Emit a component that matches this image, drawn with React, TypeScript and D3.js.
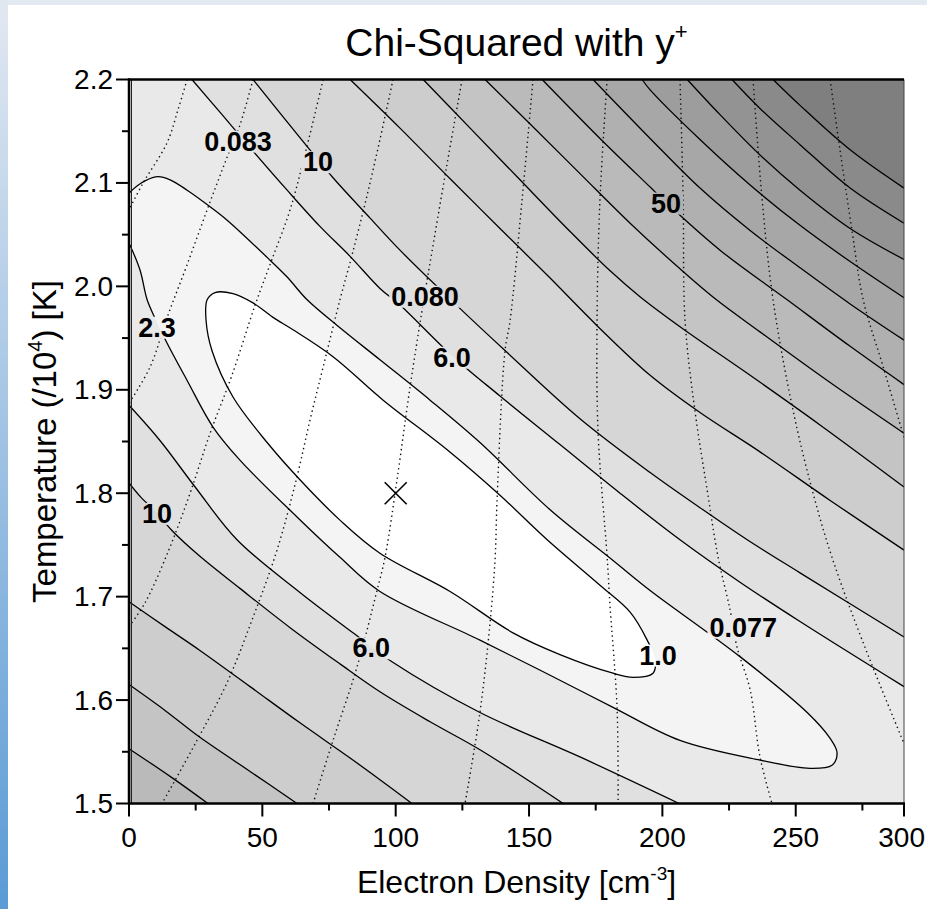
import React from 'react';
import * as d3 from 'd3';

type Pt = [number, number];

// ---- data (electron density, temperature /1e4) ----
const X_MAX = 290.6;
const levels = [1.0, 2.3, 6, 10, 20, 30, 40, 50, 60, 70, 80, 90, 100];
const bandGrays = ['#ffffff', '#f4f4f4', '#e9e9e9', '#e0e0e0', '#d6d6d6', '#cdcdcd', '#c4c4c4', '#bababa', '#b0b0b0', '#a7a7a7', '#9d9d9d', '#939393', '#8a8a8a', '#7f7f7f'];

const contour1: Pt[] = [[29.3,1.987],[32.3,1.994],[39.0,1.993],[46.5,1.984],[54.0,1.970],[61.5,1.958],[76.5,1.932],[95.3,1.890],[119.3,1.842],[139.1,1.798],[156.8,1.755],[176.6,1.711],[187.9,1.685],[194.3,1.658],[197.3,1.639],[196.5,1.626],[189.0,1.622],[181.5,1.626],[161.6,1.644],[144.0,1.665],[120.4,1.705],[94.1,1.742],[79.1,1.774],[64.1,1.813],[51.8,1.849],[39.0,1.893],[31.1,1.938],[28.9,1.967]];
const contour23: Pt[] = [[0,2.042],[4.1,2.016],[6.8,1.987],[9.8,1.969],[14.3,1.945],[21.8,1.909],[31.5,1.864],[41.6,1.832],[63.0,1.777],[79.1,1.738],[94.1,1.705],[131.6,1.658],[157.9,1.624],[181.5,1.593],[206.6,1.561],[236.6,1.542],[255.4,1.534],[263.6,1.537],[265.5,1.549],[262.9,1.563],[254.3,1.588],[229.1,1.642],[195.4,1.706],[181.5,1.735],[157.9,1.784],[131.6,1.849],[112.9,1.890],[94.1,1.929],[79.1,1.960],[66.8,1.987],[59.3,2.009],[51.8,2.028],[36.8,2.064],[30.4,2.077],[21.8,2.093],[15.4,2.103],[10.9,2.106],[6.0,2.102],[3.0,2.097],[0,2.090]];

const upper6: Pt[] = [[23.6,2.2],[34.9,2.166],[46.1,2.132],[59.3,2.093],[71.6,2.058],[82.9,2.029],[94.1,1.998],[101.6,1.982],[121.1,1.933],[139.1,1.894],[161.6,1.847],[184.1,1.800],[206.6,1.755],[229.1,1.714],[251.6,1.676],[290.6,1.613]];
const lower6: Pt[] = [[0,1.885],[11.6,1.851],[24.8,1.806],[40.5,1.755],[64.1,1.704],[84.0,1.665],[98.6,1.637],[131.6,1.588],[169.1,1.545],[206.3,1.5]];
const upper10: Pt[] = [[46.5,2.2],[65.3,2.140],[76.5,2.105],[90.4,2.066],[101.6,2.035],[121.5,1.985],[141.8,1.936],[169.1,1.872],[195.4,1.820],[214.1,1.786],[231.8,1.755],[251.6,1.723],[290.6,1.661]];
const lower10: Pt[] = [[0,1.810],[4.5,1.796],[10.5,1.781],[16.1,1.764],[26.6,1.739],[41.6,1.708],[60.4,1.670],[79.1,1.635],[94.1,1.608],[112.9,1.579],[131.6,1.552],[162.8,1.5]];
const upper20: Pt[] = [[82.9,2.2],[101.6,2.153],[120.4,2.104],[139.1,2.056],[157.9,2.008],[175.5,1.962],[195.4,1.914],[214.1,1.878],[236.6,1.840],[262.9,1.793],[290.6,1.745]];
const lower20: Pt[] = [[0,1.695],[13.5,1.671],[26.6,1.648],[45.4,1.613],[64.1,1.578],[82.9,1.544],[94.1,1.523],[106.1,1.5]];
const upper30: Pt[] = [[110.3,2.2],[127.9,2.153],[146.6,2.103],[165.4,2.053],[180.4,2.015],[191.6,1.990],[206.6,1.961],[232.9,1.914],[259.1,1.866],[290.6,1.806]];
const lower30: Pt[] = [[0,1.615],[13.5,1.590],[26.6,1.564],[45.4,1.531],[63.0,1.5]];
const upper40: Pt[] = [[133.5,2.2],[150.4,2.157],[169.1,2.109],[187.9,2.061],[206.6,2.017],[219.8,1.988],[236.6,1.956],[262.9,1.907],[290.6,1.858]];
const lower40: Pt[] = [[0,1.553],[16.1,1.525],[29.6,1.5]];
const upper50: Pt[] = [[154.9,2.2],[176.6,2.143],[195.4,2.096],[201.0,2.082],[221.6,2.035],[246.8,1.987],[270.4,1.942],[290.6,1.905]];
const upper60: Pt[] = [[174.0,2.2],[195.4,2.143],[214.1,2.095],[232.9,2.054],[251.6,2.018],[270.4,1.983],[290.6,1.948]];
const upper70: Pt[] = [[192.4,2.2],[195.4,2.190],[214.1,2.142],[232.9,2.098],[251.6,2.059],[270.4,2.024],[290.6,1.989]];
const upper80: Pt[] = [[209.3,2.2],[221.6,2.166],[236.6,2.127],[251.6,2.093],[270.4,2.056],[290.6,2.026]];
const upper90: Pt[] = [[226.1,2.2],[236.6,2.172],[251.6,2.137],[270.4,2.095],[290.6,2.061]];
const upper100: Pt[] = [[241.5,2.2],[251.6,2.175],[270.4,2.132],[290.6,2.095]];

// y+ contours (dotted), levels 0.084 ... 0.075
const yPlusLevels = [0.084, 0.083, 0.082, 0.081, 0.080, 0.079, 0.078, 0.077, 0.076, 0.075];
const yp084: Pt[] = [[21.8,2.2],[18.4,2.171],[14.3,2.139],[5.3,2.100],[0,2.074]];
const yp083: Pt[] = [[46.5,2.2],[41.6,2.156],[36.8,2.125],[29.3,2.074],[21.8,2.021],[14.3,1.970],[7.9,1.922],[0,1.887]];
const yp082: Pt[] = [[72.8,2.2],[66.4,2.132],[60.4,2.074],[53.6,2.026],[47.3,1.982],[38.6,1.914],[30.4,1.858],[22.9,1.800],[14.6,1.743],[6.0,1.694],[0,1.671]];
const yp081: Pt[] = [[99.0,2.2],[94.1,2.142],[88.9,2.084],[83.6,2.030],[79.1,1.987],[72.8,1.922],[67.9,1.871],[63.0,1.816],[55.5,1.745],[46.5,1.680],[36.8,1.617],[25.5,1.561],[12.4,1.5]];
const yp080: Pt[] = [[124.9,2.2],[118.9,2.113],[112.9,2.023],[109.9,1.977],[105.4,1.903],[100.5,1.813],[96.0,1.738],[93.0,1.706],[85.5,1.632],[76.5,1.561],[69.0,1.5]];
const yp079: Pt[] = [[151.5,2.2],[147.4,2.084],[142.9,1.967],[141.0,1.938],[138.0,1.793],[137.3,1.738],[135.4,1.675],[131.6,1.588],[126.0,1.5]];
const yp078: Pt[] = [[179.3,2.2],[176.6,2.084],[175.5,1.967],[175.9,1.858],[179.3,1.738],[180.4,1.690],[183.0,1.593],[183.4,1.5]];
const yp077: Pt[] = [[206.6,2.2],[207.8,2.084],[208.5,1.967],[212.3,1.878],[216.8,1.803],[220.9,1.738],[225.4,1.687],[228.0,1.651],[232.9,1.610],[236.6,1.545],[241.1,1.5]];
const yp076: Pt[] = [[234.0,2.2],[237.4,2.084],[241.5,1.987],[249.0,1.880],[256.5,1.800],[263.6,1.738],[274.9,1.658],[290.6,1.558]];
const yp075: Pt[] = [[262.9,2.2],[266.6,2.132],[271.1,2.054],[275.3,1.987],[282.8,1.922],[290.6,1.854]];

const contourLabels = [
  { text: '10', x: 70.9, y: 2.120 },
  { text: '50', x: 201.4, y: 2.080 },
  { text: '6.0', x: 121.1, y: 1.931 },
  { text: '2.3', x: 10.5, y: 1.960 },
  { text: '10', x: 10.5, y: 1.780 },
  { text: '6.0', x: 90.8, y: 1.650 },
  { text: '1.0', x: 198.4, y: 1.643 },
  { text: '0.083', x: 40.9, y: 2.140 },
  { text: '0.080', x: 111.0, y: 1.990 },
  { text: '0.077', x: 230.3, y: 1.670 },
];

const bestFit: Pt = [100, 1.8];
const xTickValues = [0, 50, 100, 150, 200, 250];
const xMinorValues = [25, 75, 125, 175, 225, 275];
const xEndLabel = '300';

const FONT = "Arial, 'Liberation Sans', Helvetica, sans-serif";

function textWidth(t: string, fs: number) {
  let w = 0;
  for (const c of t) w += c === '.' ? 0.278 : 0.556;
  return w * fs;
}

export default function App() {
  const x = d3.scaleLinear().domain([0, X_MAX]).range([129, 904]);
  const y = d3.scaleLinear().domain([1.5, 2.2]).range([803.5, 79.5]);
  const line = d3.line<Pt>().x(d => x(d[0])).y(d => y(d[1])).curve(d3.curveCatmullRom.alpha(0.5));
  const closedLine = d3.line<Pt>().x(d => x(d[0])).y(d => y(d[1])).curve(d3.curveCatmullRomClosed.alpha(0.5));

  const px0 = x(0), px1 = x(X_MAX), pyTop = y(2.2), pyBot = y(1.5);
  const rectPath = `M${px0},${pyTop}H${px1}V${pyBot}H${px0}Z`;

  const openLevels = [
    { level: levels[2], upper: upper6, lower: lower6 },
    { level: levels[3], upper: upper10, lower: lower10 },
    { level: levels[4], upper: upper20, lower: lower20 },
    { level: levels[5], upper: upper30, lower: lower30 },
    { level: levels[6], upper: upper40, lower: lower40 },
    { level: levels[7], upper: upper50, lower: null },
    { level: levels[8], upper: upper60, lower: null },
    { level: levels[9], upper: upper70, lower: null },
    { level: levels[10], upper: upper80, lower: null },
    { level: levels[11], upper: upper90, lower: null },
    { level: levels[12], upper: upper100, lower: null },
  ];

  const fills: { d: string; fill: string; rule?: string }[] = [];
  fills.push({ d: rectPath, fill: bandGrays[0] });
  fills.push({ d: rectPath + closedLine(contour1), fill: bandGrays[1], rule: 'evenodd' });
  fills.push({ d: rectPath + line(contour23) + 'Z', fill: bandGrays[2], rule: 'evenodd' });
  openLevels.forEach((lv, i) => {
    const c = bandGrays[i + 3];
    fills.push({ d: line(lv.upper) + `L${px1},${pyTop}Z`, fill: c });
    if (lv.lower) fills.push({ d: line(lv.lower) + `L${px0},${pyBot}Z`, fill: c });
  });

  const solidPaths: string[] = [closedLine(contour1) as string, line(contour23) as string];
  openLevels.forEach(lv => {
    solidPaths.push(line(lv.upper) as string);
    if (lv.lower) solidPaths.push(line(lv.lower) as string);
  });
  const dottedSets = [yp084, yp083, yp082, yp081, yp080, yp079, yp078, yp077, yp076, yp075];

  const LFS = 27;
  const yMajor = y.ticks(7);
  const yMinor = y.ticks(14).filter(v => !yMajor.some(m => Math.abs(m - v) < 1e-6));
  const fmt = d3.format('.1f');
  const bx = x(bestFit[0]), by = y(bestFit[1]);

  return (
    <svg width={927} height={909} style={{ position: 'absolute', left: 0, top: 0 }} fontFamily={FONT}>
      <defs>
        <linearGradient id="strip" x1="0" y1="0" x2="0" y2="1">
          <stop offset="0" stopColor="#e2e8f1" />
          <stop offset="1" stopColor="#5a9bd5" />
        </linearGradient>
        <clipPath id="plotClip">
          <rect x={px0} y={pyTop} width={px1 - px0} height={pyBot - pyTop} />
        </clipPath>
        <mask id="labelMask" maskUnits="userSpaceOnUse" x={0} y={0} width={927} height={909}>
          <rect x={0} y={0} width={927} height={909} fill="white" />
          {contourLabels.map((l, i) => {
            const w = textWidth(l.text, LFS) + 4;
            return <rect key={i} x={x(l.x) - w / 2} y={y(l.y) - 11} width={w} height={22} fill="black" />;
          })}
        </mask>
      </defs>
      <rect x={0} y={0} width={927} height={909} fill="#ffffff" />
      <rect x={0} y={0} width={927} height={5} fill="#e4eaf2" />
      <rect x={0} y={0} width={8} height={909} fill="url(#strip)" />

      <g clipPath="url(#plotClip)">
        {fills.map((f, i) => (
          <path key={i} d={f.d} fill={f.fill} fillRule={(f.rule as any) || 'nonzero'} stroke="none" />
        ))}
        <g mask="url(#labelMask)" fill="none">
          {dottedSets.map((pts, i) => (
            <path key={'d' + i} d={line(pts) as string} stroke="#111" strokeWidth={1.4} strokeDasharray="1.4 3.4" />
          ))}
          {solidPaths.map((d, i) => (
            <path key={'s' + i} d={d} stroke="#000" strokeWidth={1.3} />
          ))}
        </g>
        <line x1={px0 + 2.5} x2={px0 + 2.5} y1={pyTop} y2={pyBot} stroke="#222" strokeWidth={1} />
      </g>

      {contourLabels.map((l, i) => (
        <text key={i} x={x(l.x)} y={y(l.y)} textAnchor="middle" dominantBaseline="central" fontWeight="bold" fontSize={LFS} fill="#000">{l.text}</text>
      ))}

      <g stroke="#000" strokeWidth={1.6}>
        <line x1={bx - 11} y1={by - 11} x2={bx + 11} y2={by + 11} />
        <line x1={bx - 11} y1={by + 11} x2={bx + 11} y2={by - 11} />
      </g>

      {/* frame */}
      <line x1={px1} x2={px1} y1={pyTop} y2={pyBot} stroke="#444" strokeWidth={1} />
      <line x1={px0 - 1} x2={px1} y1={pyTop} y2={pyTop} stroke="#000" strokeWidth={2.5} />
      <line x1={px0} x2={px0} y1={pyTop - 1} y2={pyBot + 1} stroke="#000" strokeWidth={2.5} />
      <line x1={px0 - 1} x2={px1 + 1} y1={pyBot} y2={pyBot} stroke="#000" strokeWidth={2.5} />

      {/* y axis ticks */}
      {yMajor.map(v => (
        <g key={'ym' + v}>
          <line x1={px0 - 13} x2={px0} y1={y(v)} y2={y(v)} stroke="#000" strokeWidth={2} />
          <text x={px0 - 16} y={y(v)} textAnchor="end" dominantBaseline="central" fontSize={28}>{fmt(v)}</text>
        </g>
      ))}
      {yMinor.map(v => (
        <line key={'yn' + v} x1={px0 - 7} x2={px0} y1={y(v)} y2={y(v)} stroke="#000" strokeWidth={2} />
      ))}
      {/* x axis ticks */}
      {xTickValues.map(v => (
        <g key={'xm' + v}>
          <line x1={x(v)} x2={x(v)} y1={pyBot} y2={pyBot + 13} stroke="#000" strokeWidth={2} />
          <text x={x(v)} y={847} textAnchor="middle" fontSize={28}>{v}</text>
        </g>
      ))}
      <line x1={px1} x2={px1} y1={pyBot} y2={pyBot + 13} stroke="#000" strokeWidth={2} />
      <text x={925} y={847} textAnchor="end" fontSize={28}>{xEndLabel}</text>
      {xMinorValues.map(v => (
        <line key={'xn' + v} x1={x(v)} x2={x(v)} y1={pyBot} y2={pyBot + 7} stroke="#000" strokeWidth={2} />
      ))}

      {/* titles */}
      <text x={(px0 + px1) / 2} y={56} textAnchor="middle" fontSize={39}>
        Chi-Squared with y<tspan fontSize={22} dy={-17}>+</tspan>
      </text>
      <text x={(px0 + px1) / 2} y={893} textAnchor="middle" fontSize={32}>
        Electron Density [cm<tspan fontSize={19} dy={-13}>-3</tspan><tspan dy={13}>]</tspan>
      </text>
      <text transform={`translate(56,${(pyTop + pyBot) / 2}) rotate(-90)`} textAnchor="middle" fontSize={33}>
        Temperature (/10<tspan fontSize={20} dy={-14}>4</tspan><tspan dy={14}>) [K]</tspan>
      </text>
    </svg>
  );
}
